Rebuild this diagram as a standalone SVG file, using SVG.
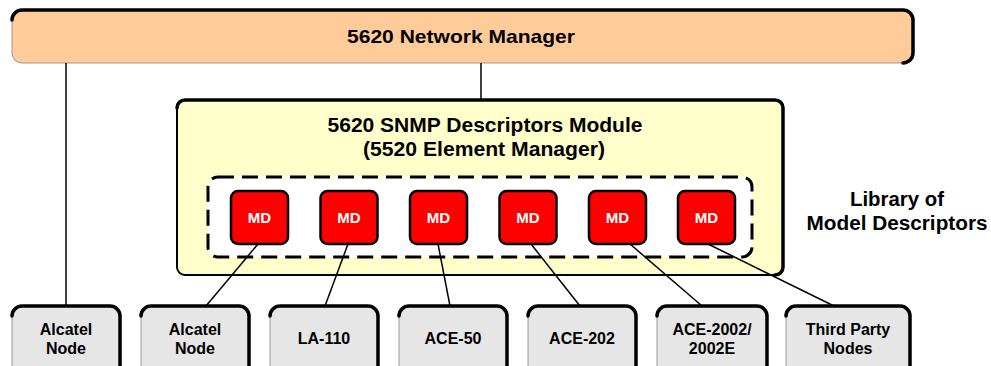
<svg xmlns="http://www.w3.org/2000/svg" width="991" height="366" viewBox="0 0 991 366">
<style>
text{font-family:"Liberation Sans",Arial,sans-serif;font-weight:bold;text-anchor:middle;fill:#000}
.edge{fill:none;stroke:#000;stroke-width:3.5;stroke-linecap:round}
.node rect{fill:#E6E6E6;stroke:#999;stroke-width:1}
.node text{font-size:16px}
.md rect{fill:#FF0000;stroke:#000;stroke-width:2.5}
.md text{fill:#fff;font-size:15px}
.conn line{stroke:#000;stroke-width:1.5}
</style>
<g id="network-manager">
<rect x="12" y="10" width="901" height="53" rx="10" fill="#FFCC99" stroke="#999" stroke-width="1"/>
<path class="edge" d="M12,20 A10,10 0 0 1 22,10 H903 A10,10 0 0 1 913,20 V53 A10,10 0 0 1 903,63"/>
<text x="461" y="43" font-size="19" textLength="228" lengthAdjust="spacingAndGlyphs">5620 Network Manager</text>
</g>
<g id="snmp-module">
<rect x="177" y="100" width="606" height="175" rx="8" fill="#FFFFCC" stroke="#000" stroke-width="2"/>
<path class="edge" d="M177,108 A8,8 0 0 1 185,100 H775 A8,8 0 0 1 783,108 V267 A8,8 0 0 1 775,275" stroke-width="3"/>
<text x="485" y="132" font-size="20" textLength="315" lengthAdjust="spacingAndGlyphs">5620 SNMP Descriptors Module</text>
<text x="484" y="156" font-size="20" textLength="242" lengthAdjust="spacingAndGlyphs">(5520 Element Manager)</text>
</g>
<g id="library">
<rect x="208" y="177" width="544" height="80" rx="10" fill="#fff" stroke="#000" stroke-width="3" stroke-dasharray="16,8"/>
</g>
<g id="md1" class="md"><rect x="231" y="191" width="57" height="53" rx="7"/><text x="259.5" y="223">MD</text></g>
<g id="md2" class="md"><rect x="320.5" y="191" width="57" height="53" rx="7"/><text x="349" y="223">MD</text></g>
<g id="md3" class="md"><rect x="410" y="191" width="57" height="53" rx="7"/><text x="438.5" y="223">MD</text></g>
<g id="md4" class="md"><rect x="499.5" y="191" width="57" height="53" rx="7"/><text x="528" y="223">MD</text></g>
<g id="md5" class="md"><rect x="589" y="191" width="57" height="53" rx="7"/><text x="617.5" y="223">MD</text></g>
<g id="md6" class="md"><rect x="678" y="191" width="57" height="53" rx="7"/><text x="706.5" y="223">MD</text></g>
<g id="conn" class="conn">
<line x1="66" y1="63" x2="66" y2="306"/>
<line x1="481" y1="63" x2="481" y2="100"/>
<line x1="258" y1="244" x2="206" y2="306"/>
<line x1="348" y1="244" x2="325" y2="306"/>
<line x1="438" y1="244" x2="450" y2="306"/>
<line x1="531" y1="244" x2="580" y2="306"/>
<line x1="630" y1="244" x2="702" y2="306"/>
<line x1="708" y1="244" x2="834" y2="306"/>
</g>
<g id="library-label">
<text x="897" y="206" font-size="20" textLength="94" lengthAdjust="spacingAndGlyphs">Library of</text>
<text x="897" y="230" font-size="20" textLength="181" lengthAdjust="spacingAndGlyphs">Model Descriptors</text>
</g>
<g id="node1" class="node"><rect x="12" y="306" width="108" height="80" rx="10"/><path class="edge" d="M12,316 A10,10 0 0 1 22,306 H110 A10,10 0 0 1 120,316 V386"/><text x="66" y="335">Alcatel</text><text x="66" y="354">Node</text></g>
<g id="node2" class="node"><rect x="141" y="306" width="108" height="80" rx="10"/><path class="edge" d="M141,316 A10,10 0 0 1 151,306 H239 A10,10 0 0 1 249,316 V386"/><text x="195" y="335">Alcatel</text><text x="195" y="354">Node</text></g>
<g id="node3" class="node"><rect x="270" y="306" width="108" height="80" rx="10"/><path class="edge" d="M270,316 A10,10 0 0 1 280,306 H368 A10,10 0 0 1 378,316 V386"/><text x="324" y="344">LA-110</text></g>
<g id="node4" class="node"><rect x="399" y="306" width="108" height="80" rx="10"/><path class="edge" d="M399,316 A10,10 0 0 1 409,306 H497 A10,10 0 0 1 507,316 V386"/><text x="453" y="344">ACE-50</text></g>
<g id="node5" class="node"><rect x="528" y="306" width="108" height="80" rx="10"/><path class="edge" d="M528,316 A10,10 0 0 1 538,306 H626 A10,10 0 0 1 636,316 V386"/><text x="582" y="344">ACE-202</text></g>
<g id="node6" class="node"><rect x="657" y="306" width="110" height="80" rx="10"/><path class="edge" d="M657,316 A10,10 0 0 1 667,306 H757 A10,10 0 0 1 767,316 V386"/><text x="712" y="335">ACE-2002/</text><text x="712" y="354">2002E</text></g>
<g id="node7" class="node"><rect x="786" y="306" width="124" height="80" rx="10"/><path class="edge" d="M786,316 A10,10 0 0 1 796,306 H900 A10,10 0 0 1 910,316 V386"/><text x="848" y="335">Third Party</text><text x="848" y="354">Nodes</text></g>
</svg>
